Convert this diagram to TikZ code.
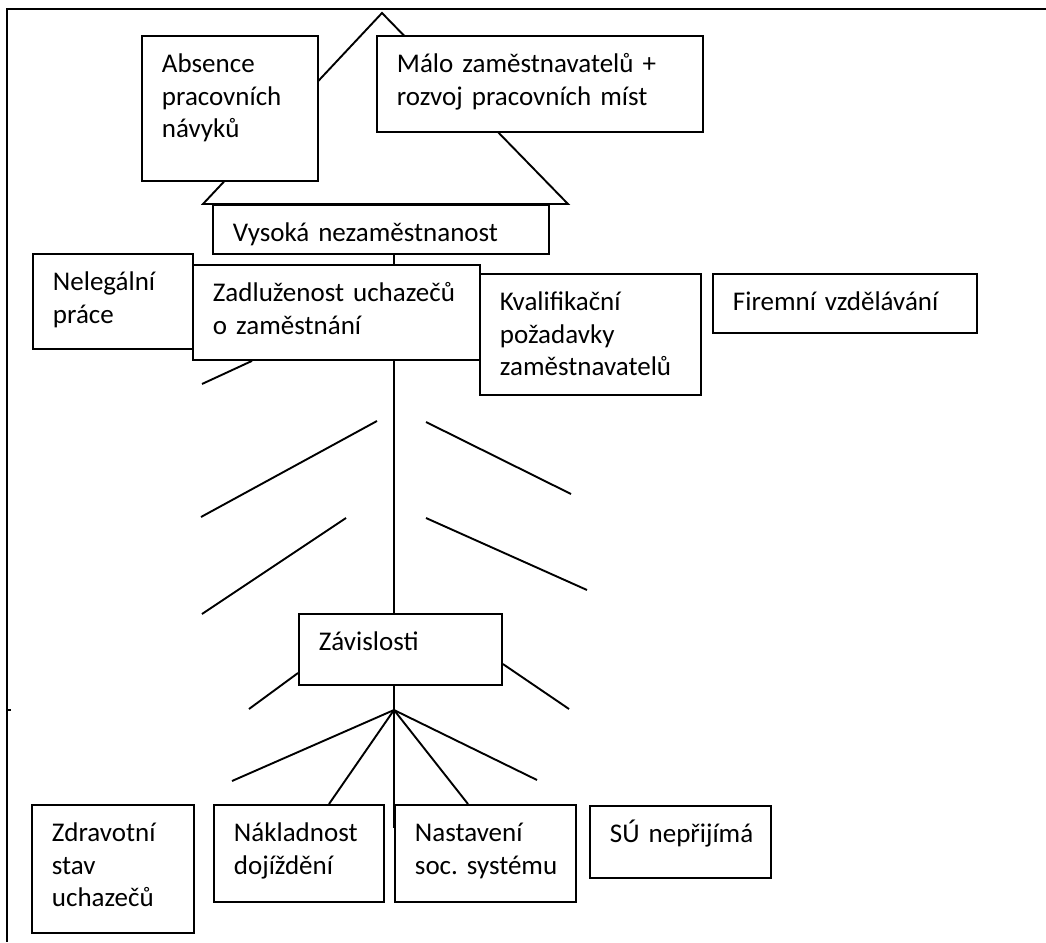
\documentclass[tikz,border=0pt]{standalone}
\usepackage{fontspec}
\setmainfont{Carlito}
\usetikzlibrary{backgrounds}
\newcommand\boxfont{\fontsize{27}{32.5}\selectfont\hyphenpenalty=10000\relax}
\tikzset{
    causebox/.style={
        rectangle,
        draw=black,
        line width=1.9pt,
        fill=white,
        anchor=north west,
        align=left,
        inner xsep=20pt,
        inner ysep=0pt,
        text height=37pt,
        font=\boxfont
    },
    boxsize/.style 2 args={
        text width=#1pt-40pt,
        text depth=#2pt-37pt
    },
    bone/.style={
        line width=1.9pt,
        draw=black
    }
}

\begin{document}
\begin{tikzpicture}[x=1pt,y=-1pt,bone]
    \useasboundingbox (0,0) rectangle (1046,942);
    \node [causebox,boxsize={176}{145}] (absence) at (141,35) {Absence\\pracovních\\návyků};
    \node [causebox,boxsize={326}{96}] (malo) at (376,35) {Málo zaměstnavatelů +\\rozvoj pracovních míst};
    \node [causebox,boxsize={336}{49}] (vysoka) at (212,204) {Vysoká nezaměstnanost};
    \node [causebox,boxsize={160}{95}] (nelegalni) at (32,253) {Nelegální\\práce};
    \node [causebox,boxsize={287}{95}] (zadluzenost) at (192,264) {Zadluženost~uchazečů\\o~zaměstnání};
    \node [causebox,boxsize={221}{121}] (kvalifikace) at (479,273) {Kvalifikační\\požadavky\\zaměstnavatelů};
    \node [causebox,boxsize={264}{59}] (firemni) at (712,273) {Firemní~vzdělávání};
    \node [causebox,boxsize={203}{71}] (zavislosti) at (298,613) {Závislosti};
    \node [causebox,boxsize={162}{128}] (zdravotni) at (31,804) {Zdravotní\\stav\\uchazečů};
    \node [causebox,boxsize={170}{97}] (naklady) at (213,804) {Nákladnost\\dojíždění};
    \node [causebox,boxsize={181}{97}] (nastaveni) at (394,804) {Nastavení\\soc.~systému};
    \node [causebox,boxsize={181}{72}] (su) at (589,805) {SÚ~nepřijímá};

    \coordinate (apex) at (382,13);
    \coordinate (roofL) at (203,204);
    \coordinate (roofR) at (568,204);
    \coordinate (trunk) at (394,0);
    \coordinate (fan) at (394,710);
    \coordinate (fanend) at (394,828);
    \coordinate (fanL) at (232,781);
    \coordinate (fanR) at (537,780);
    \coordinate (boneZ) at (202,384);
    \coordinate (boneL) at (249,709);
    \coordinate (boneR) at (569,709);

    \begin{scope}[on background layer]
        \draw[bone] (1046,9) -- (7,9) -- (7,942);
        \draw[bone] (7,710) -- (11,710);
        \draw[bone] (roofL) -- (apex) -- (roofR) -- cycle;
    \end{scope}

    \draw (vysoka.south -| trunk) -- (zadluzenost.north -| trunk);
    \draw (zadluzenost.south -| trunk) -- (zavislosti.north -| trunk);
    \draw (zavislosti.south -| trunk) -- (fan) -- (fanend);
    \draw (fan) -- (fanL);
    \draw (fan) -- ([xshift=116pt]naklady.north west);
    \draw (fan) -- ([xshift=74pt]nastaveni.north west);
    \draw (fan) -- (fanR);
    \draw ([xshift=60pt]zadluzenost.south west) -- (boneZ);
    \draw ([yshift=-60pt]zavislosti.north west) -- (boneL);
    \draw ([yshift=-51pt]zavislosti.north east) -- (boneR);
    \draw (377,421) -- (201,517);
    \draw (346,518) -- (202,614);
    \draw (426,422) -- (571,494);
    \draw (426,518) -- (587,590);
\end{tikzpicture}
\end{document}
